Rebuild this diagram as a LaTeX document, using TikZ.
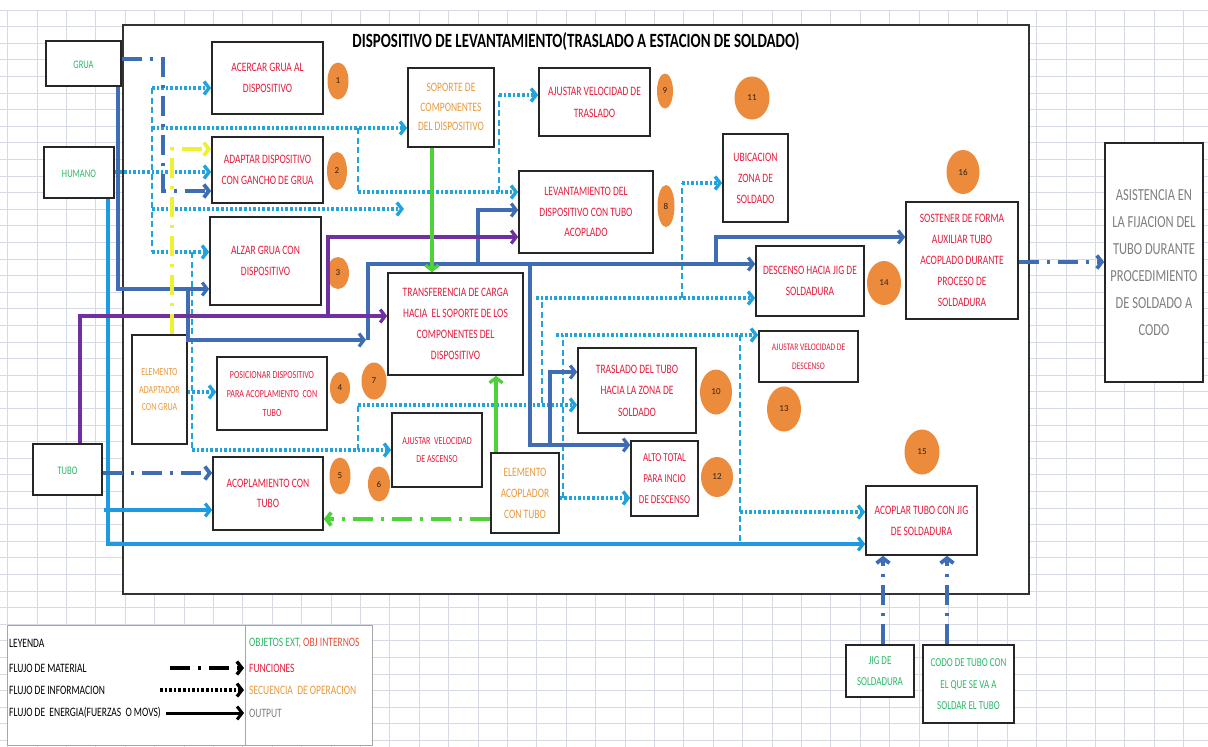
\documentclass[tikz,border=0pt]{standalone}
\usepackage{fontspec}
\setmainfont{Carlito}
\usepackage{graphicx}
\usetikzlibrary{arrows.meta,shapes.geometric}
\definecolor{lb}{HTML}{22A3DC}
\definecolor{lbs}{HTML}{1E9BE0}
\definecolor{db}{HTML}{3E6DB4}
\definecolor{pu}{HTML}{7030A0}
\definecolor{gr}{HTML}{4FD13A}
\definecolor{ye}{HTML}{EEF032}
\definecolor{fnred}{HTML}{E41E3E}
\definecolor{extgreen}{HTML}{2EB86A}
\definecolor{intorange}{HTML}{E89A3C}
\definecolor{intred}{HTML}{E8503A}
\definecolor{outgray}{HTML}{7F7F7F}
\definecolor{circ}{HTML}{EC8B3C}
\definecolor{gridc}{HTML}{D5DAE4}
\NewDocumentCommand\lbl{O{9.5} O{17} m}{\scalebox{1}[1.35]{\fontsize{#1}{#2}\selectfont\begin{tabular}{@{}c@{}}#3\end{tabular}}}
\begin{document}
\begin{tikzpicture}[x=1pt,y=-1pt,
  box/.style={draw=black!85, line width=1.6pt, fill=white, inner sep=0pt, align=center},
  fn/.style={box, text=fnred},
  ext/.style={box, text=extgreen},
  int/.style={box, text=intorange},
  num/.style={ellipse, fill=circ, inner sep=0pt, text=black!75!brown, font=\fontsize{9}{10}\selectfont},
  tip/.style={-{Straight Barb[length=5pt,width=13pt]}},
  info/.style={draw=lb, line width=3.4pt, dash pattern=on 2.6pt off 2pt, tip},
  infov/.style={draw=lb, line width=1.6pt, dash pattern=on 6pt off 3.5pt},
  mat/.style={draw=db, line width=3.8pt, dash pattern=on 20pt off 8pt on 3pt off 8pt, tip},
  en/.style={draw=db, line width=3.2pt, tip},
  leg/.style={inner sep=0pt, anchor=west, font=\fontsize{9.5}{11}\selectfont}
]
\useasboundingbox (0,0) rectangle (1208,747);
\fill[white] (0,0) rectangle (1208,747);
% spreadsheet grid
\foreach \i in {0,...,40} \draw[gridc, line width=0.8pt] ({7.5+29.4*\i},10) -- ({7.5+29.4*\i},747);
\foreach \j in {0,...,44} \draw[gridc, line width=0.8pt] (0,{10+16.6*\j}) -- (1208,{10+16.6*\j});
% main frame
\node[draw=black!80, line width=1.8pt, fill=white, minimum width=906pt, minimum height=569pt, inner sep=0pt] (frame) at (576,309.5) {};
\node[inner sep=0pt] (title) at (576,42) {\resizebox{447pt}{15pt}{\bfseries DISPOSITIVO DE LEVANTAMIENTO(TRASLADO A ESTACION DE SOLDADO)}};
% legend
\node[draw=black!35, line width=0.8pt, fill=white, minimum width=365pt, minimum height=120pt, inner sep=0pt] (legend) at (189.5,685) {};
\draw[black!35, line width=0.8pt] (legend.north -| 245,0) -- (legend.south -| 245,0);

% external / internal objects
\node[ext, minimum width=75pt, minimum height=45pt] (grua) at (83.5,63.5) {\lbl[8.5]{GRUA}};
\node[ext, minimum width=70pt, minimum height=51pt] (humano) at (79,172.5) {\lbl[8.5]{HUMANO}};
\node[ext, minimum width=69pt, minimum height=51pt] (tubo) at (67.5,469.5) {\lbl[8.5]{TUBO}};
\node[int, minimum width=55pt, minimum height=109pt] (ead) at (159.5,389.5) {\lbl[8][13]{ELEMENTO\\ADAPTADOR\\CON GRUA}};
\node[int, minimum width=68pt, minimum height=80pt] (eac) at (525,493) {\lbl[9.5][15.5]{ELEMENTO\\ACOPLADOR\\CON TUBO}};
\node[int, minimum width=86pt, minimum height=79pt] (sop) at (451,107.5) {\lbl[9.5][14.5]{SOPORTE DE\\COMPONENTES\\DEL DISPOSITIVO}};
\node[ext, minimum width=68pt, minimum height=52pt] (jig) at (880,671) {\lbl[9][15.5]{JIG DE\\SOLDADURA}};
\node[ext, minimum width=91pt, minimum height=78pt] (codo) at (968.5,684) {\lbl[9][16]{CODO DE TUBO CON\\EL QUE SE VA A\\SOLDAR EL TUBO}};
\node[box, text=outgray, minimum width=98pt, minimum height=239pt] (asis) at (1154,262.5) {\scalebox{1}[1.35]{\fontsize{12.5}{20}\selectfont\begin{tabular}{@{}c@{}}ASISTENCIA EN\\LA FIJACION DEL\\TUBO DURANTE\\PROCEDIMIENTO\\DE SOLDADO A\\CODO\end{tabular}}};

% functions
\node[fn, minimum width=111pt, minimum height=72pt] (b1) at (267.5,78) {\lbl[9.5][15]{ACERCAR GRUA AL\\DISPOSITIVO}};
\node[fn, minimum width=111pt, minimum height=66pt] (b2) at (267.5,170) {\lbl[9.5][15]{ADAPTAR DISPOSITIVO\\CON GANCHO DE GRUA}};
\node[fn, minimum width=111pt, minimum height=88pt] (b3) at (265.5,261) {\lbl[9.5][15]{ALZAR GRUA CON\\DISPOSITIVO}};
\node[fn, minimum width=110pt, minimum height=73pt] (b4) at (272,393.5) {\lbl[8][14]{POSICIONAR DISPOSITIVO\\PARA ACOPLAMIENTO\ \ CON\\TUBO}};
\node[fn, minimum width=110pt, minimum height=73pt] (b5) at (268,493.5) {\lbl[9.5][15]{ACOPLAMIENTO CON\\TUBO}};
\node[fn, minimum width=90pt, minimum height=74pt] (b6) at (437,450) {\lbl[8][13.5]{AJUSTAR\ \ VELOCIDAD\\DE ASCENSO}};
\node[fn, minimum width=135pt, minimum height=102pt] (b7) at (455.5,324) {\lbl[9.5][15.5]{TRANSFERENCIA DE CARGA\\HACIA\ \ EL SOPORTE DE LOS\\COMPONENTES DEL\\DISPOSITIVO}};
\node[fn, minimum width=134pt, minimum height=82pt] (b8) at (586,212) {\lbl[9.5][15]{LEVANTAMIENTO DEL\\DISPOSITIVO CON TUBO\\ACOPLADO}};
\node[fn, minimum width=111pt, minimum height=68pt] (b9) at (594.5,102) {\lbl[9.5][16]{AJUSTAR VELOCIDAD DE\\TRASLADO}};
\node[fn, minimum width=118pt, minimum height=85pt] (b10) at (637,390.5) {\lbl[9.5][16]{TRASLADO DEL TUBO\\HACIA LA ZONA DE\\SOLDADO}};
\node[fn, minimum width=65pt, minimum height=88pt] (ubi) at (755.5,178) {\lbl[9.5][15.5]{UBICACION\\ZONA DE\\SOLDADO}};
\node[fn, minimum width=67pt, minimum height=75pt] (b12) at (664.5,478.5) {\lbl[9][15.5]{ALTO TOTAL\\PARA INCIO\\DE DESCENSO}};
\node[fn, minimum width=99pt, minimum height=51pt] (b13) at (808.5,356.5) {\lbl[7.5][14]{AJUSTAR VELOCIDAD DE\\DESCENSO}};
\node[fn, minimum width=108pt, minimum height=70pt] (b14) at (810,281) {\lbl[9.5][15]{DESCENSO HACIA JIG DE\\SOLDADURA}};
\node[fn, minimum width=111pt, minimum height=69pt] (b15) at (921.5,520.5) {\lbl[9.5][16]{ACOPLAR TUBO CON JIG\\DE SOLDADURA}};
\node[fn, minimum width=112pt, minimum height=117pt] (b16) at (962,260.5) {\lbl[9.5][15.5]{SOSTENER DE FORMA\\AUXILIAR TUBO\\ACOPLADO DURANTE\\PROCESO DE\\SOLDADURA}};

% sequence numbers
\node[num, minimum width=21pt, minimum height=37pt] (n1) at (338,81) {1};
\node[num, minimum width=20pt, minimum height=38pt] (n2) at (337,171) {2};
\node[num, minimum width=22pt, minimum height=32pt] (n3) at (338,273) {3};
\node[num, minimum width=20pt, minimum height=32pt] (n4) at (340,388) {4};
\node[num, minimum width=21pt, minimum height=37pt] (n5) at (340,476) {5};
\node[num, minimum width=22pt, minimum height=35pt] (n6) at (379,484) {6};
\node[num, minimum width=25pt, minimum height=37pt] (n7) at (374,381) {7};
\node[num, minimum width=17pt, minimum height=42pt] (n8) at (666,206) {8};
\node[num, minimum width=16pt, minimum height=35pt] (n9) at (665,91) {9};
\node[num, minimum width=32pt, minimum height=45pt] (n10) at (716,392) {10};
\node[num, minimum width=35pt, minimum height=43pt] (n11) at (752,98) {11};
\node[num, minimum width=32pt, minimum height=40pt] (n12) at (717,477) {12};
\node[num, minimum width=34pt, minimum height=45pt] (n13) at (784,409) {13};
\node[num, minimum width=34pt, minimum height=44pt] (n14) at (884,283) {14};
\node[num, minimum width=35pt, minimum height=45pt] (n15) at (922,452) {15};
\node[num, minimum width=33pt, minimum height=44pt] (n16) at (963,172) {16};

% information flow (dotted)
\draw[infov] (152,88) -- (152,252);
\draw[info] (152,88) -- (b1.west |- 0,88);
\draw[info] (152,128) -- (sop.west |- 0,128);
\draw[info] (humano.east |- 0,172) -- (b2.west |- 0,172);
\coordinate (dangle) at (404,209);
\draw[info] (152,209) -- (dangle);
\draw[info] (152,252) -- (b3.west |- 0,252);
\draw[infov] (358,128) -- (358,192);
\draw[info] (358,192) -- (b8.west |- 0,192);
\draw[infov] (499,192) -- (499,95);
\draw[info] (499,95) -- (b9.west |- 0,95);
\draw[infov] (192,252) -- (192,450);
\draw[info] (192,450) -- (b6.west |- 0,450);
\draw[infov] (358,450) -- (358,405);
\draw[info] (358,405) -- (b10.west |- 0,405);
\draw[info] (ead.east |- 0,392) -- (b4.west |- 0,392);
\draw[info] (eac.east |- 0,498) -- (b12.west |- 0,498);
\draw[infov] (563,498) -- (563,335);
\draw[info] (556,335) -- (b13.west |- 0,335);
\draw[infov] (542,403) -- (542,298);
\draw[info] (536,298) -- (b14.west |- 0,298);
\draw[infov] (682,298) -- (682,183);
\draw[info] (682,183) -- (ubi.west |- 0,183);
\draw[infov] (740,335) -- (740,544);
\draw[info] (740,512) -- (b15.west |- 0,512);

% energy flow (solid)
\draw[en] (grua.south -| 118,0) -- (118,289) -- (b3.west |- 0,289);
\coordinate (j1) at (366,340);
\draw[en] (188,289) -- (188,340) -- (j1);
\draw[en] (368,340) -- (368,264) -- (b14.west |- 0,264);
\draw[en] (478,264) -- (478,210) -- (b8.west |- 0,210);
\draw[en] (530,264) -- (530,445) -- (b12.west |- 0,445);
\draw[en] (550,445) -- (550,372) -- (b10.west |- 0,372);
\draw[en] (716,264) -- (716,237) -- (b16.west |- 0,237);
\draw[en, draw=lbs] (humano.south -| 108,0) -- (108,544) -- (b15.west |- 0,544);
\draw[en, draw=lbs] (104,510) -- (b5.west |- 0,510);
\draw[en, draw=pu] (tubo.north -| 80,0) -- (80,316) -- (b7.west |- 0,316);
\draw[en, draw=pu] (328,316) -- (328,237) -- (b8.west |- 0,237);
\draw[en, draw=gr] (sop.south -| 432,0) -- (b7.north -| 432,0);
\draw[en, draw=gr] (eac.north -| 496,0) -- (b7.south -| 496,0);

% material flow (dash-dot)
\draw[mat] (grua.east |- 0,59) -- (163,59) -- (163,191) -- (b2.west |- 0,191);
\draw[mat] (tubo.east |- 0,473) -- (b5.west |- 0,473);
\draw[mat] (b16.east |- 0,262) -- (asis.west |- 0,262);
\draw[mat] (jig.north -| 883,0) -- (b15.south -| 883,0);
\draw[mat] (codo.north -| 947,0) -- (b15.south -| 947,0);
\draw[mat, draw=ye] (ead.north -| 172,0) -- (172,149) -- (b2.west |- 0,149);
\draw[mat, draw=gr] (eac.west |- 0,519) -- (b5.east |- 0,519);

% legend contents
\node[leg] (lg0) at (9,643) {\scalebox{1}[1.35]{LEYENDA}};
\node[leg] (lg1) at (9,668) {\scalebox{1}[1.35]{FLUJO DE MATERIAL}};
\node[leg] (lg2) at (9,690) {\scalebox{1}[1.35]{FLUJO DE INFORMACION}};
\node[leg] (lg3) at (9,713) {\scalebox{1}[1.35]{FLUJO DE\ \ ENERGIA(FUERZAS\ \ O MOVS)}};
\node[leg] (lr0) at (249,643) {\scalebox{1}[1.35]{\textcolor{extgreen}{OBJETOS EXT,} \textcolor{intred}{OBJ INTERNOS}}};
\node[leg, text=fnred] (lr1) at (249,668) {\scalebox{1}[1.35]{FUNCIONES}};
\node[leg, text=intorange] (lr2) at (249,690) {\scalebox{1}[1.35]{SECUENCIA\ \ DE OPERACION}};
\node[leg, text=outgray] (lr3) at (249,713) {\scalebox{1}[1.35]{OUTPUT}};
\coordinate (m1) at (170,668); \coordinate (m2) at (244,668);
\coordinate (i1) at (160,690); \coordinate (i2) at (244,690);
\coordinate (e1) at (166,713); \coordinate (e2) at (244,713);
\draw[mat, draw=black, line width=3.4pt] (m1) -- (m2);
\draw[info, draw=black, line width=3.2pt] (i1) -- (i2);
\draw[en, draw=black, line width=3pt] (e1) -- (e2);
\end{tikzpicture}
\end{document}
